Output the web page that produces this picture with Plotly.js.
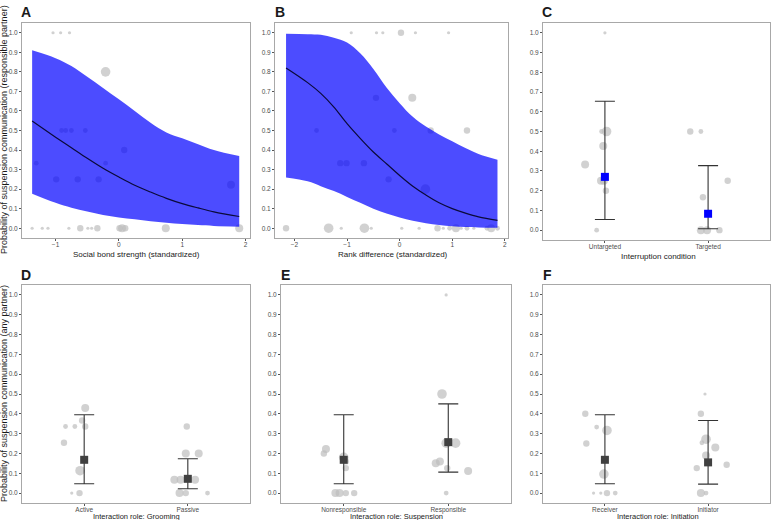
<!DOCTYPE html>
<html>
<head>
<meta charset="utf-8">
<script src="https://cdn.plot.ly/plotly-3.0.1.min.js"></script>
<style>
  html, body { margin: 0; padding: 0; background: #fff; }
  #chart { width: 780px; height: 520px; }
</style>
</head>
<body>
<div id="chart"></div>
<script>
// ---------- Panel A: social bond strength ----------
const aBond = [-1.04, -0.92, -0.78, -0.21, -0.905, -0.84, -0.75, -0.53, 0.084, -1.305, -0.21,
               -0.99, -0.65, -0.32, 1.77, -1.37, -1.21, -1.12, -0.79, -0.61, -0.49, -0.43,
               -0.34, 0.01, 0.05, 0.1, 0.74, 1.9];
const aProb = [1, 1, 1, 0.8, 0.5, 0.5, 0.5, 0.5, 0.4, 0.333, 0.333,
               0.25, 0.25, 0.25, 0.222, 0, 0, 0, 0, 0, 0, 0,
               0, 0, 0, 0, 0, 0];
const aN    = [1, 1, 1, 5, 2, 2, 2, 2, 3, 2, 2,
               3, 3, 3, 4, 1, 1, 1, 1, 3, 1, 1,
               3, 3, 4, 3, 4, 4];
const aCurveX = [-1.37, -1.0, -0.75, -0.5, -0.25, 0, 0.25, 0.5, 0.75, 1.0, 1.25, 1.5, 1.9];
const aFit    = [0.548, 0.466, 0.412, 0.358, 0.307, 0.262, 0.22, 0.185, 0.153, 0.126, 0.104, 0.084, 0.06];
const aUpper  = [0.91, 0.87, 0.83, 0.775, 0.718, 0.66, 0.6, 0.54, 0.49, 0.46, 0.43, 0.40, 0.369];
const aLower  = [0.177, 0.13, 0.105, 0.085, 0.068, 0.055, 0.046, 0.036, 0.028, 0.021, 0.016, 0.012, 0.008];

// ---------- Panel B: rank difference ----------
const bRank = [-0.92, -0.44, -0.32, 0.025, 0.3, 0.93, -0.45, 0.24, -1.58, -0.1, 0.59, 1.28,
               -1.13, -1.01, -0.68, -0.21, 0.49,
               -2.16, -1.35, -1.11, -0.67, -0.54, 0.04, 0.37, 0.72, 0.83, 0.95, 1.07, 1.17,
               1.28, 1.41, 1.66, 1.74, 1.86];
const bProb = [1, 1, 1, 1, 1, 1, 0.667, 0.667, 0.5, 0.5, 0.5, 0.5,
               0.333, 0.333, 0.333, 0.25, 0.2,
               0, 0, 0, 0, 0, 0, 0, 0, 0, 0, 0, 0,
               0, 0, 0, 0, 0];
const bN    = [1, 1, 1, 3, 1, 1, 3, 4, 2, 2, 3, 3,
               3, 3, 3, 3, 5,
               3, 5, 1, 5, 1, 1, 1, 3, 1, 2, 4, 1,
               2, 1, 2, 4, 2];
const bCurveX = [-2.16, -1.75, -1.5, -1.25, -1.0, -0.75, -0.5, -0.25, 0, 0.25, 0.5, 0.75, 1.0, 1.25, 1.5, 1.86];
const bFit    = [0.82, 0.745, 0.69, 0.62, 0.535, 0.46, 0.39, 0.33, 0.27, 0.215, 0.17, 0.13, 0.10, 0.077, 0.058, 0.04];
const bUpper  = [0.995, 0.993, 0.99, 0.975, 0.95, 0.895, 0.815, 0.72, 0.64, 0.57, 0.52, 0.48, 0.445, 0.41, 0.38, 0.35];
const bLower  = [0.26, 0.24, 0.215, 0.19, 0.16, 0.13, 0.10, 0.075, 0.055, 0.038, 0.025, 0.016, 0.01, 0.006, 0.004, 0.002];

// ---------- Panel C: interruption condition ----------
const cLabels = ['Untargeted', 'Targeted'];
const cPos  = [1.0, 0.968, 1.016, 0.984, 0.808, 0.962, 0.99, 1.01, 0.92,
               1.827, 1.93, 1.95, 2.19, 1.93, 1.99, 2.11];
const cProb = [1.0, 0.5, 0.5, 0.427, 0.333, 0.25, 0.25, 0.2, 0,
               0.5, 0.5, 0.167, 0.25, 0, 0, 0];
const cN    = [1, 2, 5, 4, 4, 4, 4, 3, 2,
               3, 2, 3, 3, 4, 4, 3];
const cMean  = [0.27, 0.083];
const cUpper = [0.653, 0.327];
const cLower = [0.054, 0.007];

// ---------- Panel D: grooming role ----------
const dLabels = ['Active', 'Passive'];
const dPos  = [1.01, 0.98, 0.82, 0.91, 1.01, 0.805, 0.96, 0.88, 0.955,
               1.99, 1.98, 2.105, 1.87, 1.93, 2.07, 1.92, 1.98, 2.19];
const dProb = [0.429, 0.366, 0.336, 0.336, 0.336, 0.254, 0.113, 0, 0,
               0.336, 0.2, 0.2, 0.067, 0.067, 0.067, 0, 0, 0];
const dN    = [4, 3, 2, 2, 3, 3, 5, 1, 3,
               3, 4, 4, 4, 4, 4, 4, 3, 2];
const dMean  = [0.168, 0.072];
const dUpper = [0.395, 0.173];
const dLower = [0.047, 0.022];

// ---------- Panel E: suspension role ----------
const eLabels = ['Nonresponsible', 'Responsible'];
const ePos  = [0.83, 0.81, 1.0, 1.02, 1.02, 0.92, 0.96, 1.02, 1.1,
               1.98, 1.94, 1.88, 1.92, 1.98, 2.07, 1.99, 2.19, 1.98];
const eProb = [0.222, 0.2, 0.18, 0.16, 0.126, 0, 0, 0, 0,
               1.0, 0.5, 0.15, 0.16, 0.252, 0.252, 0.126, 0.111, 0];
const eN    = [4, 3, 5, 3, 3, 4, 4, 3, 3,
               1, 5, 4, 4, 5, 5, 3, 4, 2];
const eMean  = [0.168, 0.257];
const eUpper = [0.395, 0.45];
const eLower = [0.047, 0.106];

// ---------- Panel F: initiation role ----------
const fLabels = ['Receiver', 'Initiator'];
const fPos  = [0.81, 0.92, 1.02, 0.82, 0.99, 0.89, 0.96, 1.02, 1.1,
               1.97, 1.93, 1.98, 1.94, 2.07, 1.98, 1.89, 2.18, 1.93, 1.98];
const fProb = [0.4, 0.333, 0.316, 0.25, 0.096, 0, 0, 0, 0,
               0.5, 0.4, 0.272, 0.254, 0.23, 0.19, 0.126, 0.143, 0, 0];
const fN    = [3, 2, 5, 3, 5, 1, 1, 3, 2,
               1, 3, 5, 2, 4, 4, 3, 3, 4, 2];
const fMean  = [0.168, 0.155];
const fUpper = [0.395, 0.366];
const fLower = [0.047, 0.045];

// ---------- styling ----------
const FONT = 'Liberation Sans, Arial, Helvetica, sans-serif';
const PT_GREY = '#bebebe';
const RIBBON = 'rgba(0,0,255,0.70)';
const DARK = '#404040';
const sizeOf = n => n.map(v => 1.6 + 1.6 * v);

function pointTrace(x, y, n, ax) {
  return {
    type: 'scatter', mode: 'markers', x: x, y: y,
    xaxis: 'x' + ax, yaxis: 'y' + ax,
    marker: { color: PT_GREY, size: sizeOf(n), line: { width: 0 } },
    hoverinfo: 'skip', showlegend: false
  };
}

function ribbonTraces(cx, fit, lo, hi, ax) {
  return [
    { type: 'scatter', mode: 'lines', x: cx, y: lo, xaxis: 'x' + ax, yaxis: 'y' + ax,
      line: { width: 0, shape: 'spline', color: RIBBON }, hoverinfo: 'skip', showlegend: false },
    { type: 'scatter', mode: 'lines', x: cx, y: hi, xaxis: 'x' + ax, yaxis: 'y' + ax,
      fill: 'tonexty', fillcolor: RIBBON,
      line: { width: 0, shape: 'spline', color: RIBBON }, hoverinfo: 'skip', showlegend: false },
    { type: 'scatter', mode: 'lines', x: cx, y: fit, xaxis: 'x' + ax, yaxis: 'y' + ax,
      line: { width: 1.2, shape: 'spline', color: '#0a0a3a' }, hoverinfo: 'skip', showlegend: false }
  ];
}

function summaryTrace(mean, lo, hi, colour, ax) {
  return {
    type: 'scatter', mode: 'markers', x: [1, 2], y: mean,
    xaxis: 'x' + ax, yaxis: 'y' + ax,
    marker: { symbol: 'square', size: 8, color: colour, line: { width: 0 } },
    error_y: {
      type: 'data', symmetric: false,
      array: hi.map((v, i) => v - mean[i]),
      arrayminus: mean.map((v, i) => v - lo[i]),
      color: '#333333', thickness: 1.1, width: 10
    },
    hoverinfo: 'skip', showlegend: false
  };
}

const traces = [
  pointTrace(aBond, aProb, aN, ''),
  ...ribbonTraces(aCurveX, aFit, aLower, aUpper, ''),
  pointTrace(bRank, bProb, bN, '2'),
  ...ribbonTraces(bCurveX, bFit, bLower, bUpper, '2'),
  pointTrace(cPos, cProb, cN, '3'),
  summaryTrace(cMean, cLower, cUpper, '#0000ff', '3'),
  pointTrace(dPos, dProb, dN, '4'),
  summaryTrace(dMean, dLower, dUpper, DARK, '4'),
  pointTrace(ePos, eProb, eN, '5'),
  summaryTrace(eMean, eLower, eUpper, DARK, '5'),
  pointTrace(fPos, fProb, fN, '6'),
  summaryTrace(fMean, fLower, fUpper, DARK, '6')
];

function xAxis(domain, anchor, extra) {
  return Object.assign({
    domain: domain, anchor: anchor,
    showline: true, mirror: true, linecolor: '#a8a8a8', linewidth: 1,
    showgrid: false, zeroline: false,
    ticks: 'outside', ticklen: 2, tickwidth: 1, tickcolor: '#555',
    ticklabelstandoff: -2,
    tickfont: { family: FONT, size: 6.5, color: '#4d4d4d' }
  }, extra);
}
function yAxis(domain, anchor) {
  return {
    domain: domain, anchor: anchor, range: [-0.05, 1.05],
    showline: true, mirror: true, linecolor: '#a8a8a8', linewidth: 1,
    showgrid: false, zeroline: false,
    ticks: 'outside', ticklen: 2, tickwidth: 1, tickcolor: '#555',
    tickmode: 'array', tickvals: [0, 0.1, 0.2, 0.3, 0.4, 0.5, 0.6, 0.7, 0.8, 0.9, 1.0],
    tickformat: '.1f',
    tickfont: { family: FONT, size: 6.5, color: '#4d4d4d' }
  };
}
function catAxis(domain, anchor, labels) {
  return xAxis(domain, anchor, {
    range: [0.4, 2.6], tickmode: 'array', tickvals: [1, 2], ticktext: labels,
    tickfont: { family: FONT, size: 6.5, color: '#4d4d4d' }
  });
}

const colL = [22 / 780, 250 / 780];
const colM = [275 / 780, 508 / 780];
const colMb = [281 / 780, 511 / 780];
const colR = [543 / 780, 770 / 780];
const rowT = [1 - 238 / 520, 1 - 23 / 520];
const rowTc = [1 - 240 / 520, 1 - 23 / 520];
const rowB = [1 - 503 / 520, 1 - 285 / 520];

function note(text, xpx, ypx, size, opts) {
  return Object.assign({
    text: text, xref: 'paper', yref: 'paper',
    x: xpx / 780, y: 1 - ypx / 520, showarrow: false,
    xanchor: 'center', yanchor: 'middle',
    font: { family: FONT, size: size, color: '#1a1a1a' }
  }, opts || {});
}

const layout = {
  width: 780, height: 520,
  margin: { l: 0, r: 0, t: 0, b: 0 },
  paper_bgcolor: '#ffffff', plot_bgcolor: '#ffffff',
  showlegend: false,
  xaxis:  xAxis(colL, 'y', { range: [-1.53, 2.07], tickmode: 'array', tickvals: [-1, 0, 1, 2] }),
  yaxis:  yAxis(rowT, 'x'),
  xaxis2: xAxis(colM, 'y2', { range: [-2.37, 2.06], tickmode: 'array', tickvals: [-2, -1, 0, 1, 2] }),
  yaxis2: yAxis(rowT, 'x2'),
  xaxis3: catAxis(colR, 'y3', cLabels),
  yaxis3: yAxis(rowTc, 'x3'),
  xaxis4: catAxis(colL, 'y4', dLabels),
  yaxis4: yAxis(rowB, 'x4'),
  xaxis5: catAxis(colMb, 'y5', eLabels),
  yaxis5: yAxis(rowB, 'x5'),
  xaxis6: catAxis(colR, 'y6', fLabels),
  yaxis6: yAxis(rowB, 'x6'),
  annotations: [
    note('<b>A</b>', 26, 12, 14),
    note('<b>B</b>', 280, 12, 14),
    note('<b>C</b>', 547, 12, 14),
    note('<b>D</b>', 26, 275, 14),
    note('<b>E</b>', 285, 275, 14),
    note('<b>F</b>', 547, 275, 14),
    note('Social bond strength (standardized)', 136, 254, 8),
    note('Rank difference (standardized)', 393, 254, 8),
    note('Interruption condition', 658, 256, 8),
    note('Interaction role: Grooming', 136, 516.6, 7.5),
    note('Interaction role: Suspension', 396, 516.6, 7.5),
    note('Interaction role: Initiation', 658, 516.6, 7.5),
    note('Probability of suspension communication (responsible partner)', 4, 130, 9, { textangle: -90 }),
    note('Probability of suspension communication (any partner)', 4, 394, 9, { textangle: -90 })
  ]
};

Plotly.newPlot('chart', traces, layout, { staticPlot: true, displayModeBar: false });
</script>
</body>
</html>
